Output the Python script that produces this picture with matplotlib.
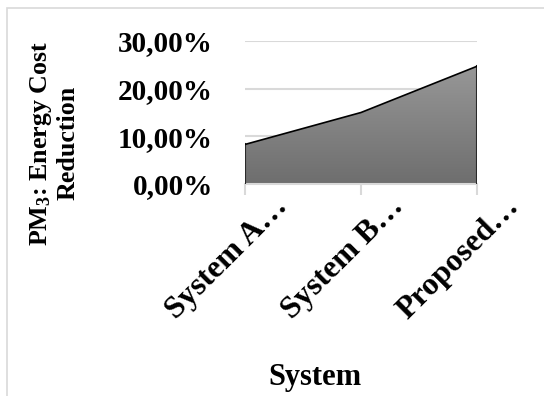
import numpy as np
import matplotlib.pyplot as plt
from matplotlib.patches import Rectangle, Polygon
from matplotlib.colors import LinearSegmentedColormap
from matplotlib.ticker import FuncFormatter
import matplotlib.transforms as mtransforms

systems = ["System A\u2026", "System B\u2026", "Proposed\u2026"]
reduction = [8.3, 15.0, 24.7]  # percent
yticks = [0, 10, 20, 30]

plt.rcParams['font.family'] = ['Liberation Serif', 'DejaVu Serif']
plt.rcParams['font.weight'] = 'bold'
plt.rcParams['mathtext.fontset'] = 'custom'
plt.rcParams['mathtext.rm'] = 'Liberation Serif:bold'
plt.rcParams['mathtext.it'] = 'Liberation Serif:bold'
plt.rcParams['mathtext.bf'] = 'Liberation Serif:bold'

fig = plt.figure(figsize=(5.44, 3.96), dpi=100)
W, H = 544, 396

# chart frame (only top and left edges are inside the image)
fig.patches.append(Rectangle((7 / W, -0.1), 1.2, 1.1 - 8 / H, transform=fig.transFigure,
                             fill=False, edgecolor='#d9d9d9', linewidth=1.2))

ax = fig.add_axes([245 / W, 1 - 184 / H, 232 / W, 143 / H])
x = np.arange(len(systems))

# gradient fill clipped to the area under the line
grad = np.linspace(0, 1, 256).reshape(-1, 1)
cmap = LinearSegmentedColormap.from_list('g', ['#a0a0a0', '#6e6e6e'])
img = ax.imshow(grad, cmap=cmap, extent=[0, 2, 0, 30], origin='upper',
                aspect='auto', zorder=2)
verts = [(0, 0)] + list(zip(x, reduction)) + [(x[-1], 0)]
poly = Polygon(verts, closed=True, facecolor='none', edgecolor='none')
ax.add_patch(poly)
img.set_clip_path(poly)
ax.plot([0, 0], [0, reduction[0]], color='#2a2a2a', lw=1.5, zorder=3)
ax.plot([2, 2], [0, reduction[-1]], color='#2a2a2a', lw=1.5, zorder=3)
ax.plot(x, reduction, color='black', lw=1.2, zorder=3)

ax.set_xlim(0, 2)
ax.set_ylim(0, 30)
ax.set_yticks(yticks)
ax.yaxis.set_major_formatter(FuncFormatter(lambda v, p: f"{v:.2f}%".replace('.', ',')))
ax.grid(axis='y', color='#d9d9d9', lw=1.5, zorder=0)
ax.set_axisbelow(True)
for s in ['top', 'right', 'left']:
    ax.spines[s].set_visible(False)
ax.spines['bottom'].set_color('#d9d9d9')
ax.spines['bottom'].set_linewidth(1.5)
ax.tick_params(axis='y', length=0, pad=23, labelsize=21)
ax.tick_params(axis='x', length=8, width=1.5, color='#d9d9d9', labelsize=23, pad=2)

ax.set_xticks(x)
ax.set_xticklabels(systems, rotation=45, ha='right', va='center', rotation_mode='anchor')
offset = mtransforms.ScaledTranslation(38 / 100, -4 / 100, fig.dpi_scale_trans)
for lbl in ax.get_xticklabels():
    lbl.set_transform(lbl.get_transform() + offset)

fig.text(315 / W, 1 - 377 / H, "System", ha='center', va='center', fontsize=22, fontweight='bold')
fig.text(54 / W, 1 - 143 / H, "PM$_3$: Energy Cost\nReduction", ha='center', va='center',
         rotation=90, fontsize=18.7, fontweight='bold', linespacing=1.15)

fig.savefig('out.png', dpi=100)
